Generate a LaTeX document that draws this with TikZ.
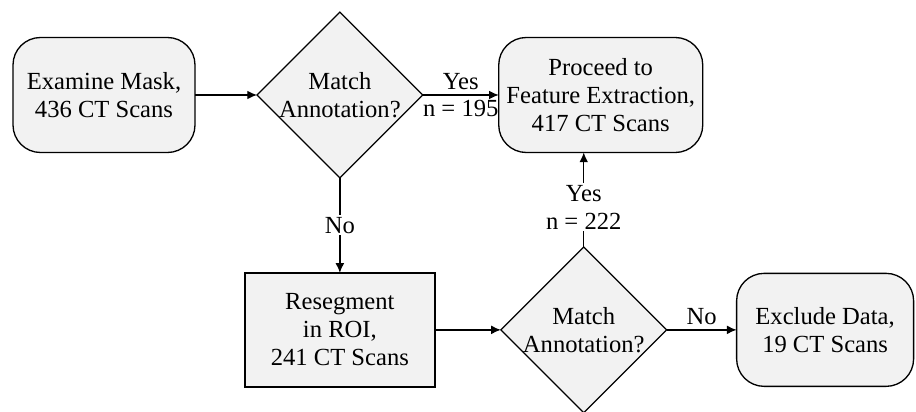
\documentclass[tikz,border=0pt]{standalone}
\usepackage{fontspec}
\setmainfont{Liberation Serif}
\usepackage{amsmath,tikz}
\usetikzlibrary{shapes,arrows,arrows.meta,calc,positioning}

\begin{document}
\begin{tikzpicture}[font=\fontsize{14}{16}\selectfont,line width=0.75pt,
  every node/.style={align=center},
  block/.style={draw,fill=black!5,rectangle,minimum height=2.3cm,outer sep=0pt},
  rblock/.style={block,rounded corners=0.55cm},
  decide/.style={draw,fill=black!5,diamond,aspect=1,inner sep=-0.2pt,minimum size=3.3cm,outer sep=0pt},
  lbl/.style={fill=white,inner sep=1pt},
  arr/.style={-{Latex[length=5.5pt,width=5pt]}}]

        \useasboundingbox (-2.08,-6.34) rectangle (16.24,1.9);

        \node[rblock,minimum width=3.64cm] (A) {Examine Mask,\\436 CT Scans};
        \node[decide] (B) [right = 1.24cm of A] {Match\\Annotation?};
        \node[rblock,minimum width=4.08cm] (C) [right = 1.52cm of B] {Proceed to\\Feature Extraction,\\417 CT Scans};
        \node[block,minimum width=3.8cm,minimum height=2.28cm] (D) [below = 1.9cm of B] {Resegment\\in ROI,\\241 CT Scans};
        \node[decide] (E) [right = 1.32cm of D] {Match\\Annotation?};
        \node[rblock,minimum width=3.54cm,minimum height=2.26cm] (F) [right = 1.4cm of E] {Exclude Data,\\19 CT Scans};

        \draw[arr] (A) -- (B);
        \draw[arr] (B) -- node[above=-1pt] {Yes} node[below=-1pt] {n = 195} (C);
        \draw[arr] (B) -- node[lbl] {No} (D);
        \draw[arr] (D) -- (E);
        \draw[arr] (E.north) -- node[lbl,pos=0.42] {Yes\\n = 222} (E.north |- C.south);
        \draw[arr] (E) -- node[above=-1pt] {No} (F);
      \end{tikzpicture}
\end{document}
